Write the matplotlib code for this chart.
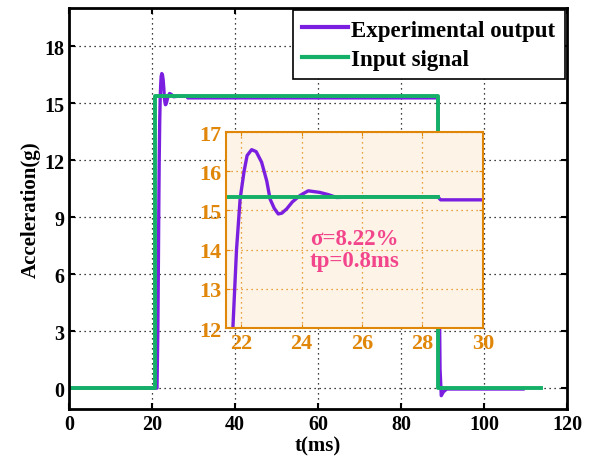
import numpy as np
import matplotlib
matplotlib.use("Agg")
import matplotlib.pyplot as plt

plt.rcParams['font.family'] = ['Liberation Serif', 'DejaVu Serif']
plt.rcParams['font.weight'] = 'bold'
plt.rcParams['axes.labelweight'] = 'bold'

# experimental output (g) vs time (ms)
t_out = [0, 21.2, 21.4, 21.55, 21.65, 21.73, 21.85, 21.97, 22.1, 22.2, 22.35,
         22.5, 22.68, 22.85, 22.96, 23.1, 23.23, 23.35, 23.51, 23.7, 23.95,
         24.22, 24.6, 24.9, 25.16, 26.0, 28.5, 28.6, 88.9, 89.1, 89.4, 89.7,
         90.2, 91.0, 109.4]
acc_out = [0, 0, 3, 7, 10, 12, 14, 15.3, 16.0, 16.4, 16.55,
           16.5, 16.23, 15.75, 15.29, 15.05, 14.91, 14.93, 15.04, 15.22, 15.38,
           15.5, 15.46, 15.4, 15.33, 15.35, 15.35, 15.27, 15.27, 8, 1, -0.4,
           -0.2, -0.05, -0.05]

# input signal
t_in = [0, 20.7, 20.7, 88.8, 88.8, 113.7]
acc_in = [0, 0, 15.35, 15.35, 0, 0]

# input signal segment shown in the zoomed view
t_in_zoom = [21.5, 28.5]
acc_in_zoom = [15.35, 15.35]

xticks = [0, 20, 40, 60, 80, 100, 120]
yticks = [0, 3, 6, 9, 12, 15, 18]
zoom_xticks = [22, 24, 26, 28, 30]
zoom_yticks = [12, 13, 14, 15, 16, 17]

purple = '#7A1FE0'
green = '#14B068'
orange = '#E0870A'

fig = plt.figure(figsize=(5.93, 4.64), dpi=100)
ax = fig.add_axes([0.1164, 0.1164, 0.8398, 0.8642])

ax.plot(t_out, acc_out, color=purple, lw=2.4, label='Experimental output')
ax.plot(t_in, acc_in, color=green, lw=2.8, label='Input signal')

ax.set_xlim(0, 120)
ax.set_ylim(-1.1, 20)
ax.set_xticks(xticks)
ax.set_yticks(yticks)
ax.grid(True, color='black', linestyle=(0, (1, 3)), linewidth=0.9)
ax.tick_params(direction='in', top=True, right=True, labelsize=14.5,
               width=1.5, length=4)
for s in ax.spines.values():
    s.set_linewidth(2)
ax.set_xlabel('t(ms)', fontsize=15, labelpad=1)
ax.set_ylabel('Acceleration(g)', fontsize=15, labelpad=2)

leg = ax.legend(loc='upper right', fontsize=16.5, fancybox=False,
                edgecolor='black', framealpha=1, handlelength=2.0,
                handletextpad=0.15, borderaxespad=0.1, borderpad=0.4,
                labelspacing=0.35)
leg.get_frame().set_linewidth(1.2)
for line in leg.get_lines():
    line.set_linewidth(3)

# zoomed view
axin = fig.add_axes([0.381, 0.2909, 0.4334, 0.4224])
axin.set_facecolor('#FDF3E6')
axin.plot(t_out, acc_out, color=purple, lw=2.4)
axin.plot(t_in_zoom, acc_in_zoom, color=green, lw=2.8)
axin.set_xlim(21.5, 30)
axin.set_ylim(12, 17)
axin.set_xticks(zoom_xticks)
axin.set_yticks(zoom_yticks)
axin.grid(True, color=orange, linestyle=(0, (1, 3)), linewidth=0.9)
axin.tick_params(direction='in', colors=orange, labelsize=16, length=3,
                 top=True, right=True)
for s in axin.spines.values():
    s.set_color(orange)
    s.set_linewidth(1.5)
axin.text(25.74, 14.0, 'σ=8.22%\ntp=0.8ms', color='#F2458C', fontsize=16.5,
          fontweight='bold', ha='center', va='center', linespacing=1.1)

fig.savefig('out.png', dpi=100)
